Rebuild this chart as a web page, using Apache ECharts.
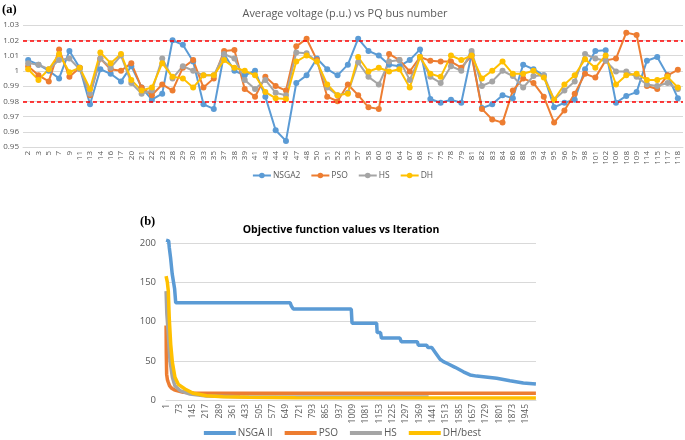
<!DOCTYPE html>
<html><head><meta charset="utf-8">
<script src="https://cdn.jsdelivr.net/npm/echarts@6/dist/echarts.min.js"></script>
<style>html,body{margin:0;padding:0;background:#fff}#c{width:685px;height:440px}</style>
</head><body><div id="c"></div>
<script>
// ---- Chart (a): average voltage per PQ bus ----
const busLabels = ['2','3','5','7','9','11','13','14','16','17','20','21','22','23','28','29','30','33','35','37','38','39','41','43','44','45','47','48','50','51','52','53','57','58','60','63','64','67','68','71','75','78','79','81','82','83','84','86','88','93','94','95','96','97','98','101','102','106','108','109','114','115','117','118'];
const nsga2 = [1.007,1.004,1.000,0.995,1.013,1.002,0.978,1.001,0.998,0.993,1.003,0.989,0.981,0.985,1.020,1.017,1.006,0.978,0.975,1.011,1.000,0.997,1.000,0.983,0.961,0.954,0.992,0.997,1.008,1.001,0.997,1.004,1.021,1.013,1.010,1.004,1.003,1.007,1.014,0.9815,0.979,0.981,0.979,1.011,0.9755,0.978,0.984,0.982,1.004,1.001,0.997,0.976,0.979,0.981,1.001,1.013,1.0135,0.979,0.9835,0.986,1.0066,1.009,0.997,0.982];
const pso   = [1.003,0.997,0.993,1.014,0.996,1.002,0.984,1.008,1.001,1.000,1.005,0.989,0.984,0.991,0.987,1.002,1.007,0.989,0.995,1.013,1.0136,0.988,0.983,0.996,0.990,0.987,1.016,1.021,1.007,0.983,0.980,0.991,0.984,0.976,0.975,1.011,1.007,0.9995,1.009,1.0065,1.006,1.006,1.002,1.010,0.975,0.968,0.966,0.987,0.995,0.992,0.983,0.966,0.974,0.985,0.998,0.9955,1.0068,1.008,1.025,1.0235,0.990,0.988,0.997,1.0006];
const hs    = [1.005,1.004,1.001,1.007,1.008,1.001,0.985,1.008,1.002,1.010,0.992,0.985,0.987,1.008,0.995,1.003,1.000,0.997,0.997,1.011,1.008,0.994,0.988,0.994,0.9855,0.984,1.012,1.0115,1.006,0.989,0.984,0.9855,1.0055,0.996,0.991,1.006,1.007,0.994,1.009,0.996,0.992,1.003,1.000,1.013,0.990,0.993,1.000,0.9965,0.989,0.9965,0.997,0.981,0.987,0.993,1.011,1.008,1.0065,0.9995,0.9995,0.996,0.991,0.990,0.992,0.988];
const dh    = [1.001,0.994,1.001,1.011,0.999,1.002,0.988,1.012,1.005,1.011,0.994,0.987,0.989,1.005,0.996,0.995,0.989,0.997,0.997,1.007,1.002,1.000,0.997,0.986,0.982,0.9815,1.006,1.010,1.006,0.991,0.984,0.985,1.009,0.9995,1.002,0.9995,1.001,0.989,1.009,0.998,0.996,1.010,1.007,1.010,0.995,1.000,1.006,0.998,0.998,1.000,0.9955,0.981,0.991,0.997,1.0075,1.002,1.010,0.991,0.997,0.998,0.994,0.994,0.996,0.989];
const voltLimits = [1.02, 0.98];
const voltTicks = [0.95, 1.03, 0.01];

// ---- Chart (b): objective function vs iteration ----
const iterCount = 2000;
const iterLabels = [];
for (let i = 1; i <= iterCount; i++) iterLabels.push(String(i));
const nsgaIt  = [1,15,18,25,34,47,53,672,678,689,1002,1006,1139,1142,1160,1165,1265,1272,1359,1364,1410,1416,1437,1455,1482,1500,1527,1563,1608,1644,1680,1716,1788,1860,1932,2000];
const nsgaVal = [204,203,195,182,161,142,124,124,120,116,116,98,98,86,86,79,79,74.5,74.5,70,70,67,67,61,52,49,46,41.7,36,32,30.5,29.8,27.7,24.6,21.7,20.4];
const psoIt   = [1,2,4,8,13,20,31,45,58,94,150,300,2000];
const psoVal  = [95,60,33,26,22.5,18,15,13,12,9.8,9,8.7,8.5];
const hsIt    = [1,5,13,22,35,49,76,130,220,400,800,1420];
const hsVal   = [139,110,84,50,29,18,12,7.6,5,4.2,3.9,3.8];
const dhIt    = [1,8,13,18,26,35,49,67,103,148,220,310,450,700,2000];
const dhVal   = [158,150,139,105,71,48,29,20,14,8.5,5.5,4.3,3.5,2.8,2.4];
const objTicks = [0, 200, 50];

const C = {blue:'#5B9BD5', orange:'#ED7D31', gray:'#A5A5A5', yellow:'#FFC000'};
const txt = '#595959';
const FONT = 'Open Sans, Liberation Sans, sans-serif';
const pairs = (its, vals) => its.map((it, i) => [it - 1, vals[i]]);

function voltSeries(name, data, color, extra) {
  return Object.assign({
    name, type:'line', xAxisIndex:0, yAxisIndex:0, data,
    symbol:'circle', symbolSize:6, itemStyle:{color}, lineStyle:{color, width:2},
    z: 3
  }, extra || {});
}
function objSeries(name, data, color, z) {
  return {
    name, type:'line', xAxisIndex:1, yAxisIndex:1, data,
    symbol:'none', clip:false, itemStyle:{color}, lineStyle:{color, width:3.5}, z
  };
}
function label(text, x, y, font, color, weight, size, align) {
  return {type:'text', x, y, silent:true,
    style:{text, fill:color, font:(weight||'normal') + ' ' + size + 'px ' + font,
      textAlign:align||'center', textVerticalAlign:'middle'}};
}

const chart = echarts.init(document.getElementById('c'), null, {renderer:'canvas'});
chart.setOption({
  animation:false,
  textStyle:{fontFamily:FONT},
  graphic:[
    label('(a)', 2, 10, 'Liberation Serif', '#000', 'bold', 12.5, 'left'),
    label('Average voltage (p.u.) vs PQ bus number', 345, 14, FONT, txt, 'normal', 10.9),
    label('(b)', 140, 222, 'Liberation Serif', '#000', 'bold', 12.5, 'left'),
    label('Objective function values vs Iteration', 341, 230, FONT, '#000', 'bold', 10.5)
  ],
  legend:[
    {data:['NSGA2','PSO','HS','DH'], left:'center', top:171, padding:0, itemWidth:18, itemHeight:7, itemGap:10,
     textStyle:{fontSize:8.5, color:txt, padding:[0,0,0,-3]}},
    {data:['NSGA II','PSO (b)','HS (b)','DH/best'], left:'center', top:428, padding:0, icon:'rect', itemWidth:32, itemHeight:4, itemGap:12,
     formatter: n => n.replace(' (b)',''), textStyle:{fontSize:10, color:txt, padding:[0,0,0,-3]}}
  ],
  grid:[
    {left:23, right:2, top:25, height:122},
    {left:166, width:370, top:243.3, height:156.7}
  ],
  xAxis:[
    {type:'category', gridIndex:0, data:busLabels, boundaryGap:true,
     axisLine:{lineStyle:{color:'#D9D9D9'}}, axisTick:{show:false},
     axisLabel:{interval:0, rotate:90, fontSize:8, color:txt, margin:4}},
    {type:'category', gridIndex:1, data:iterLabels, boundaryGap:true,
     axisLine:{lineStyle:{color:'#D9D9D9'}}, axisTick:{show:false},
     axisLabel:{interval:71, rotate:90, fontSize:8.5, color:txt, margin:4}}
  ],
  yAxis:[
    {type:'value', gridIndex:0, min:voltTicks[0], max:voltTicks[1], interval:voltTicks[2],
     axisLine:{show:false}, axisTick:{show:false},
     splitLine:{lineStyle:{color:'#D9D9D9'}},
     axisLabel:{fontSize:8, color:txt, margin:4, formatter:v => String(+v.toFixed(2))}},
    {type:'value', gridIndex:1, min:objTicks[0], max:objTicks[1], interval:objTicks[2],
     axisLine:{show:false}, axisTick:{show:false},
     splitLine:{lineStyle:{color:'#D9D9D9'}},
     axisLabel:{fontSize:9.5, color:txt, margin:10}}
  ],
  series:[
    voltSeries('NSGA2', nsga2, C.blue, {
      markLine:{silent:true, symbol:'none', label:{show:false},
        lineStyle:{color:'#FF0000', type:[4,3], width:1.5},
        data: voltLimits.map(v => ({yAxis:v}))}
    }),
    voltSeries('PSO', pso, C.orange),
    voltSeries('HS', hs, C.gray),
    voltSeries('DH', dh, C.yellow),
    objSeries('NSGA II', pairs(nsgaIt, nsgaVal), C.blue, 2),
    objSeries('PSO (b)', pairs(psoIt, psoVal), C.orange, 3),
    objSeries('HS (b)', pairs(hsIt, hsVal), C.gray, 4),
    objSeries('DH/best', pairs(dhIt, dhVal), C.yellow, 5)
  ]
});
</script></body></html>
